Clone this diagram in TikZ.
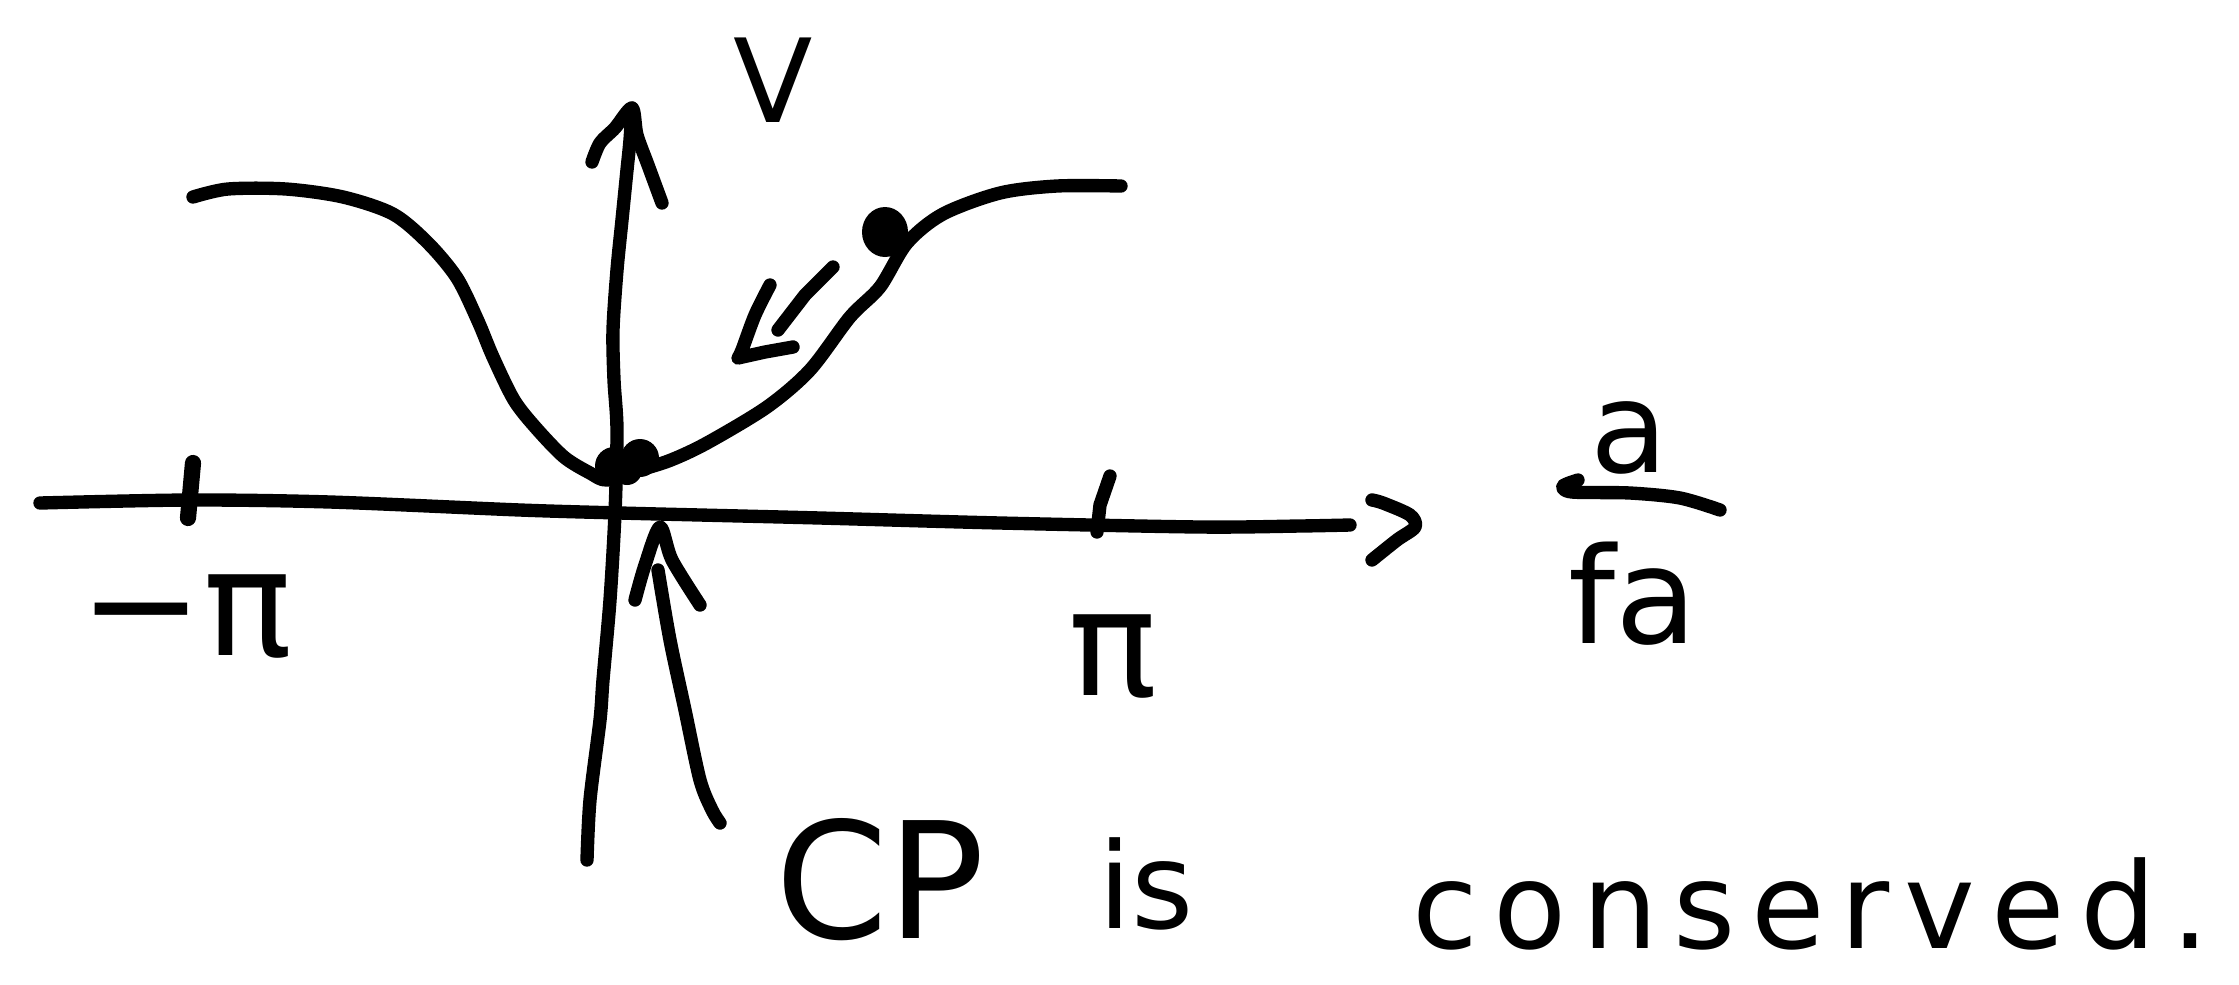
\documentclass[tikz,border=0pt]{standalone}
\usepackage{fontspec}
\setmainfont{DejaVu Sans}
\begin{document}
\begin{tikzpicture}[x=0.01cm,y=-0.01cm,
  pen/.style={line width=3.8pt,line cap=round,line join=round},
  lbl/.style={inner sep=0pt,outer sep=0pt,anchor=base west}]
\useasboundingbox (0,0) rectangle (2239,984);
\fill[white] (0,0) rectangle (2239,984);

% horizontal axis
\draw[pen] plot[smooth,tension=0.5] coordinates {(40,503) (190,500) (330,502) (520,510) (620,513) (700,515) (820,518) (1000,523) (1200,527) (1300,526) (1350,525)};
% arrowhead ">"
\draw[pen] plot[smooth,tension=0.5] coordinates {(1372,500) (1383,503) (1410,515) (1415,527) (1397,540) (1372,560)};

% ticks
\draw[pen,line width=4.6pt] (193,463) -- (188,518);
\draw[pen] (1110,476) -- (1100,505) -- (1097,532);

% vertical axis
\draw[pen] plot[smooth,tension=0.5] coordinates {(587,860) (590,800) (600,720) (603,680) (610,600) (615,513) (617,430) (614,380) (613,330) (617,270) (622,220) (627,170) (630,140) (632,108)};
\draw[pen] plot[smooth,tension=0.5] coordinates {(592,162) (600,143) (615,128) (632,108) (637,135) (648,165) (662,203)};

% potential curve
\draw[pen] plot[smooth,tension=0.5] coordinates {(193,197) (228,189) (286,189) (343,197) (393,214) (428,243) (457,278) (478,321) (493,357) (514,400) (536,428) (564,457) (590,473) (607,480) (640,470) (671,460) (707,443) (767,407) (810,370) (850,317) (880,287) (907,243) (943,214) (1000,193) (1057,186) (1121,186)};

% balls
\fill (885,232) ellipse [x radius=23, y radius=25];
\fill (614,466) circle (19);
\fill (640,458) circle (19);
\fill (627,470) circle (15);

% arrow beside the ball
\draw[pen] (833,267) -- (805,295) -- (778,330);
\draw[pen] plot[smooth,tension=0.5] coordinates {(770,285) (755,315) (742,350) (738,358)} -- (765,352) -- (793,347);

% arrow below the axis
\draw[pen] plot[smooth,tension=0.5] coordinates {(635,600) (645,565) (660,527) (672,560) (700,605)};
\draw[pen] plot[smooth,tension=0.5] coordinates {(658,570) (670,640) (685,710) (700,780) (712,810) (720,823)};

% fraction bar
\draw[pen] plot[smooth,tension=0.5] coordinates {(1578,480) (1563,486) (1572,492) (1630,493) (1680,498) (1720,510)};

% labels
\node[lbl] (V) at (733,122) {\fontsize{33}{40}\selectfont V};
\node[lbl] (mpi) at (80,655) {\fontsize{42}{50}\selectfont −π};
\node[lbl] (pi) at (1068,695) {\fontsize{42}{50}\selectfont π};
\node[lbl] (num) at (1590,472) {\fontsize{36}{42}\selectfont a};
\node[lbl] (den) at (1568,643) {\fontsize{38}{46}\selectfont fa};
\node[lbl] (cp) at (775,938) {\fontsize{46}{55}\selectfont CP};
\node[lbl] (is) at (1098,928) {\fontsize{34}{40}\selectfont is};
\node[lbl] (cons) at (1412,948) {\fontsize{34}{40}\selectfont\addfontfeature{LetterSpace=13}conserved.};
\end{tikzpicture}
\end{document}
